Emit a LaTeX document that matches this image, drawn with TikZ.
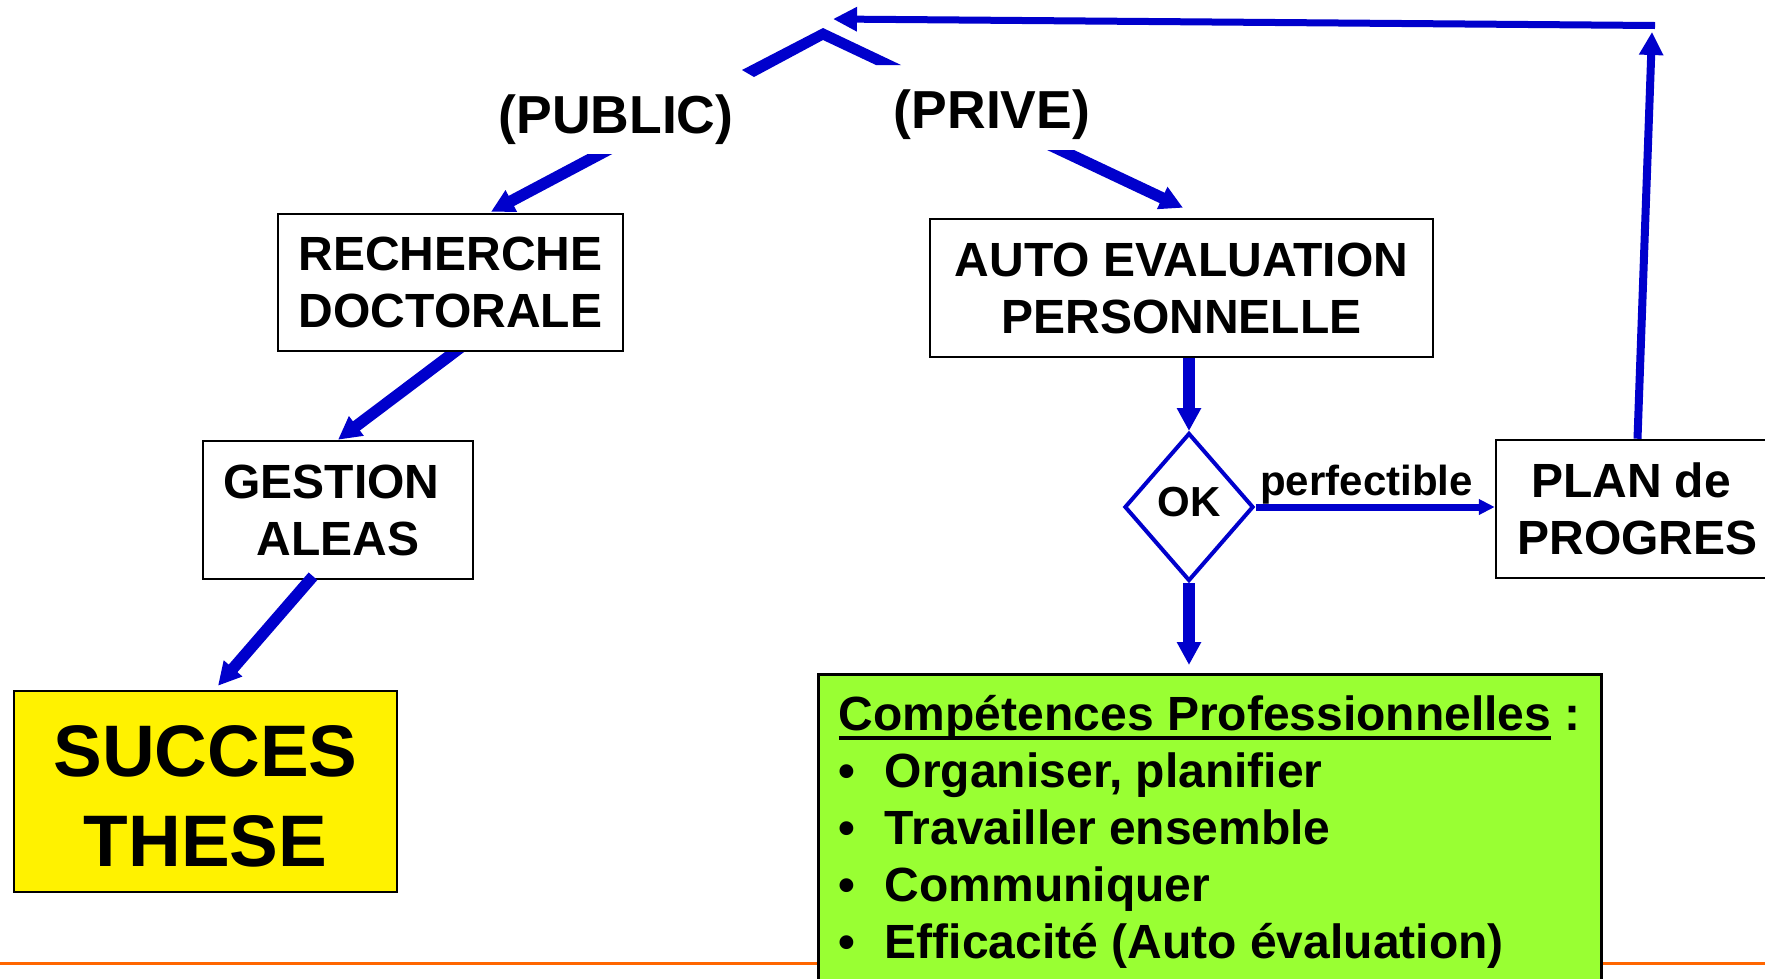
\documentclass[tikz,border=0pt]{standalone}
\usepackage{fontspec}
\setmainfont{Liberation Sans}
\usetikzlibrary{arrows.meta,shapes.geometric,calc}
\definecolor{arrblue}{RGB}{0,0,204}
\definecolor{compgreen}{RGB}{153,255,51}
\definecolor{lineorange}{RGB}{255,102,0}
\newcommand\ulbox[1]{\setbox0\hbox{#1}\rlap{\rule[-10pt]{\wd0}{4pt}}\box0\relax}
\pgfdeclarelayer{bg}
\pgfsetlayers{bg,main}
\begin{document}
\begin{tikzpicture}[x=1pt,y=-1pt,
  txtbox/.style={draw=black, line width=2.5pt, fill=white, inner sep=0pt, align=center,
    font=\bfseries\fontsize{48}{57}\selectfont},
  bigtxt/.style={txtbox, fill=yellow, font=\bfseries\fontsize{73}{90}\selectfont},
  lbl/.style={inner sep=0pt, font=\bfseries\fontsize{53.5}{60}\selectfont},
  smalllbl/.style={inner sep=0pt, font=\bfseries\fontsize{42}{50}\selectfont},
  okshape/.style={diamond, draw=arrblue, line width=4pt, fill=white, inner sep=0pt,
    minimum width=129pt, minimum height=148pt, text depth=10pt,
    font=\bfseries\fontsize{42}{50}\selectfont},
  compbox/.style={draw=black, line width=2.5pt, fill=compgreen, inner xsep=0pt, inner ysep=21pt,
    align=left, minimum width=783pt, font=\bfseries\fontsize{48}{57}\selectfont},
  bigarrow/.style={draw=arrblue, line width=11.5pt, -{Triangle[length=23pt,width=23pt]}},
  medarrow/.style={draw=arrblue, line width=7pt, -{Triangle[length=16pt,width=15pt]}},
  vertarrow/.style={draw=arrblue, line width=8pt, -{Triangle[length=23pt,width=23pt]}},
  toparrow/.style={draw=arrblue, line width=7pt, -{Triangle[length=24pt,width=23pt]}}
]
\useasboundingbox (0,0) rectangle (1765,978);
\begin{pgfonlayer}{bg}
\fill[white] (0,0) rectangle (1765,978);
% orange rule
\draw[lineorange, line width=3pt] (0,963.5) -- (1765,963.5);
\end{pgfonlayer}

% roof chevron
\fill[arrblue] (742,70) -- (823,28) -- (901,65) -- (876,65) -- (823,40) -- (754,77) -- cycle;

% labels
\node[lbl, anchor=base] (pub) at (616,133) {(PUBLIC)};
\node[lbl, anchor=base] (prive) at (992,128) {(PRIVE)};

% boxes
\node[txtbox, minimum width=345pt, minimum height=137pt] (rech) at (450.5,282.5) {RECHERCHE\\DOCTORALE};
\node[txtbox, minimum width=270pt, minimum height=138pt] (gest) at (338,510) {GESTION\kern13pt\\ALEAS};
\node[bigtxt, minimum width=383pt, minimum height=201pt, text height=150pt] (succ) at (205.5,791.5) {SUCCES\\THESE};
\node[txtbox, minimum width=503pt, minimum height=138pt] (auto) at (1181.5,288) {AUTO EVALUATION\\PERSONNELLE};
\node[okshape] (ok) at (1189,507) {OK};
\node[txtbox, minimum width=283pt, minimum height=138pt] (plan) at (1637.5,509) {PLAN de\kern13pt\\PROGRES};
\node[compbox, anchor=north west] (comp) at (817,673)
  {\ulbox{Compétences Professionnelles}\ :\\
   \makebox[46pt][l]{•}Organiser, planifier\\
   \makebox[46pt][l]{•}Travailler ensemble\\
   \makebox[46pt][l]{•}Communiquer\\
   \makebox[46pt][l]{•}Efficacité (Auto évaluation)};

% coordinates for the return loop
\coordinate (corner) at (1655,25.5);
\coordinate (rooftip) at (833,19);

% connectors
\begin{scope}
  \clip (0,154) rectangle (1765,978);
  \draw[bigarrow] ([shift={(13.6,-6)}]pub.south) -- ([shift={(40.5,-1)}]rech.north);
\end{scope}
\begin{scope}
  \clip (0,150) rectangle (1765,978);
  \draw[bigarrow] ([shift={(48,1)}]prive.south) -- ([shift={(1.5,-10)}]auto.north);
\end{scope}
\begin{pgfonlayer}{bg}
  \draw[bigarrow] ([shift={(17,-10)}]rech.south) -- (gest.north);
\end{pgfonlayer}
\draw[bigarrow] ([shift={(-25,-4)}]gest.south) -- ([shift={(12.5,-4)}]succ.north);
\draw[bigarrow] (auto.south -| ok.north) -- (ok.north);
\draw[bigarrow] (ok.south) -- ([shift={(0,-8)}]ok.south |- comp.north);
\draw[medarrow] (ok.east) -- (ok.east -| plan.west)
  node[smalllbl, pos=0.464, anchor=base, yshift=12pt] (perf) {perfectible};
\draw[vertarrow] (plan.north) -- ([shift={(-3,6.5)}]corner);
\draw[toparrow] (corner) -- (rooftip);
\end{tikzpicture}
\end{document}
